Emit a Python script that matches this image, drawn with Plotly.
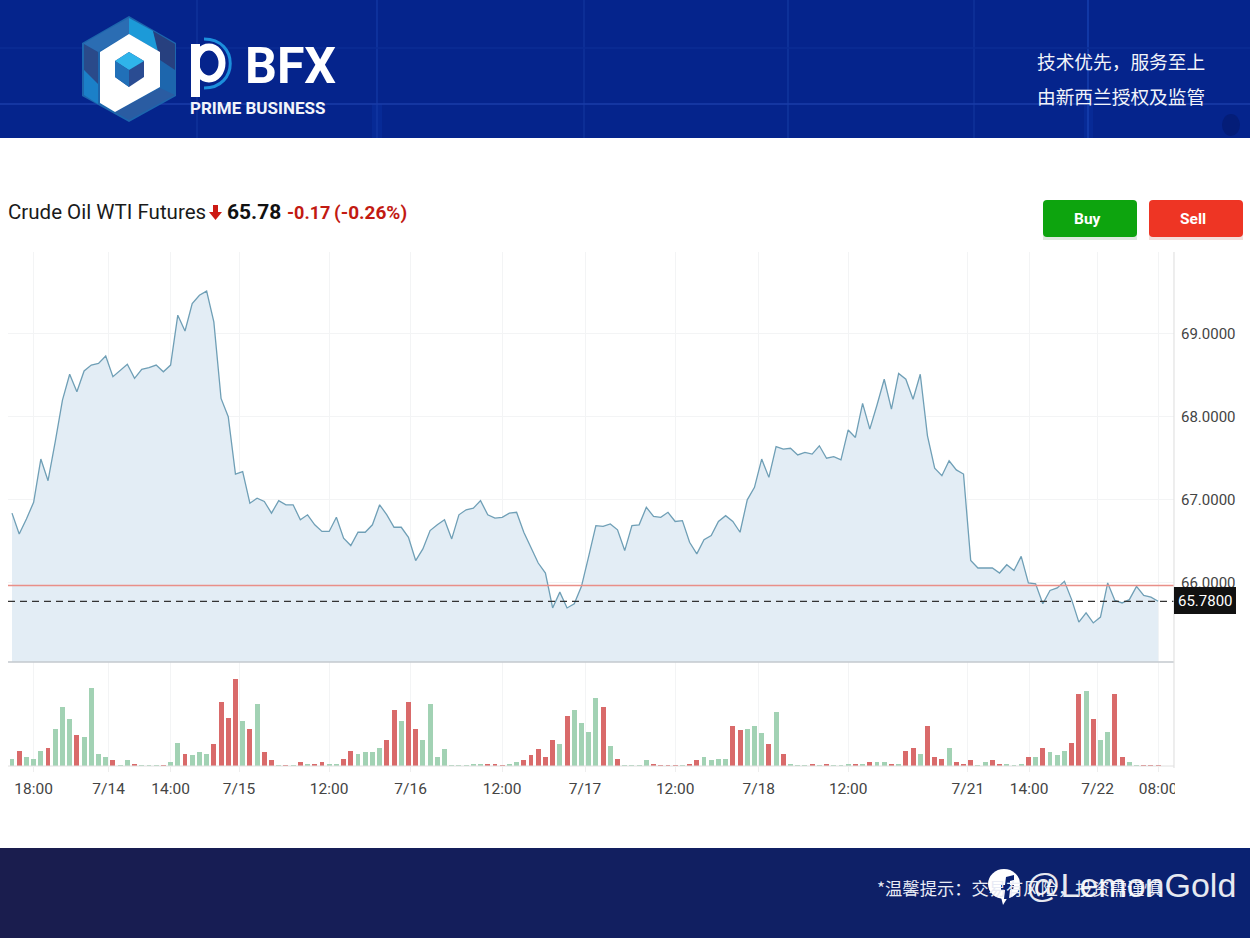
import plotly.graph_objects as go

W, H = 1250, 938
FONT = "Roboto"
CJK = "Noto Sans CJK SC"

price = [
66.84,66.59,66.77,66.97,67.49,67.23,67.70,68.20,68.51,68.30,68.55,68.62,68.64,68.73,68.48,68.56,68.63,68.46,68.57,68.59,
68.62,68.54,68.62,69.22,69.03,69.36,69.46,69.51,69.14,68.22,68.00,67.31,67.34,66.96,67.02,66.98,66.84,66.99,66.94,66.94,
66.76,66.82,66.70,66.62,66.62,66.79,66.54,66.45,66.61,66.61,66.70,66.94,66.82,66.67,66.67,66.55,66.27,
66.41,66.63,66.70,66.76,66.53,66.82,66.88,66.90,66.99,66.82,66.78,66.79,66.84,66.85,66.61,66.43,66.24,66.12,65.70,65.89,
65.70,65.75,65.96,66.32,66.69,66.68,66.71,66.64,66.39,66.69,66.70,66.91,66.80,66.79,66.85,66.74,66.75,66.49,66.35,66.52,
66.57,66.74,66.81,66.74,66.61,67.00,67.15,67.49,67.27,67.64,67.61,67.62,67.54,67.57,67.55,67.65,
67.50,67.52,67.48,67.84,67.75,68.16,67.85,68.14,68.45,68.09,68.52,68.45,68.21,68.51,67.77,67.38,67.29,67.47,67.36,67.31,
66.27,66.18,66.18,66.18,66.12,66.22,66.15,66.32,66.00,65.99,65.75,65.91,65.94,66.02,65.80,65.53,65.64,65.52,65.59,66.00,
65.79,65.76,65.80,65.96,65.85,65.83,65.78]

volume = [
22,46,26,22,46,55,112,177,140,92,88,233,36,27,18,3,18,7,2,2,2,3,12,69,36,32,41,37,65,191,144,262,135,112,186,41,18,1,3,1,
12,7,6,12,7,7,22,46,36,41,41,55,79,168,135,191,112,
79,186,27,50,1,3,3,7,7,6,4,2,6,12,18,32,50,27,79,65,149,168,130,102,205,177,60,22,1,2,2,18,7,3,3,3,2,6,18,27,18,22,22,
121,107,112,121,98,65,163,36,7,1,3,4,3,4,
1,1,7,4,7,12,12,12,7,7,46,55,36,121,27,22,55,12,7,18,2,12,18,7,7,3,7,27,27,55,41,32,46,69,215,224,140,79,102,215,27,12,1,3,3,3]

vol_side = (
"g r g g g r g g g r g g g g r g g r g g g r g g r g g g r r r r g r g r r g r g "
"r g r r g g r r g g g g r r g r r "
"g g g g g g g g g r r r g g r r r r r g r g g g g r g r g g g g r r r r g r r g g g g "
"r r g g g r g r g g g r g r "
"g g g r g r g g r g r r g r r r g r r r g g r r g g g r g r g g g r r g r g g r r g g r r r"
).split()

tick_pos = [3, 13.4, 22, 31.5, 44, 55.3, 68, 79.5, 92, 103.6, 116, 132.6, 141.1, 150.6, 159]
tick_text = ["18:00","7/14","14:00","7/15","12:00","7/16","12:00","7/17","12:00","7/18","12:00","7/21","14:00","7/22","08:00"]
price_ticks = [66, 67, 68, 69]
price_labels = ["66.0000","67.0000","68.0000","69.0000"]
CURRENT = 65.78
PREV_CLOSE = 65.97

idx = list(range(len(price)))
assert len(price) == len(volume) == len(vol_side), (len(price), len(volume), len(vol_side))

fig = go.Figure()
fig.add_trace(go.Scatter(x=idx, y=price, mode="lines", fill="tozeroy", fillcolor="#e3edf5",
                         line=dict(color="#6f9fb6", width=1.3), xaxis="x", yaxis="y", hoverinfo="skip"))
fig.add_trace(go.Bar(x=idx, y=volume, width=0.68, xaxis="x", yaxis="y2", hoverinfo="skip",
                     marker=dict(color=["#a2d2b4" if s == "g" else "#d96a6a" for s in vol_side], line=dict(width=0))))

def fx(p): return p / W
def fy(p): return 1 - p / H
def rect(x0, y0, x1, y1, color, **kw):
    return dict(type="rect", xref="paper", yref="paper", x0=fx(x0), x1=fx(x1), y0=fy(y0), y1=fy(y1),
                fillcolor=color, line=dict(width=0), layer="above", **kw)
def poly(pts, color, **kw):
    d = "M " + " L ".join(f"{fx(x):.5f} {fy(y):.5f}" for x, y in pts) + " Z"
    return dict(type="path", xref="paper", yref="paper", path=d, fillcolor=color, line=dict(width=0), layer="above", **kw)
def hline(y, color, width=1, dash="solid"):
    return dict(type="line", xref="paper", yref="y", x0=fx(8), x1=fx(1174), y0=y, y1=y,
                line=dict(color=color, width=width, dash=dash), layer="above")
def pline(x0, y0, x1, y1, color, width=1):
    return dict(type="line", xref="paper", yref="paper", x0=fx(x0), x1=fx(x1), y0=fy(y0), y1=fy(y1),
                line=dict(color=color, width=width), layer="above")

shapes = []
# top banner
shapes.append(rect(0, 0, 1250, 138, "#05248c"))
for x0, x1, c in [(372, 382, "#072a96"), (1084, 1093, "#072a96")]:
    shapes.append(rect(x0, 104, x1, 138, c))
for x, c in [(197, "#11359c"), (377, "#143aa5"), (584, "#11359c"), (788, "#143aa0"), (974, "#11359c"), (1088, "#1a44b4")]:
    shapes.append(pline(x, 0, x, 138, c, 1.3))
for y, c in [(48, "#0b2c94"), (104, "#1a3ca8")]:
    shapes.append(pline(0, y, 1250, y, c, 1.3))
shapes.append(dict(type="circle", xref="paper", yref="paper", x0=fx(1222), x1=fx(1240), y0=fy(114), y1=fy(136),
                   fillcolor="#041d78", line=dict(width=0), layer="above"))
# bottom banner, stepped left to right
steps = 25
for i in range(steps):
    t = i / (steps - 1)
    r = int(0x1a + (0x0a - 0x1a) * t)
    g = int(0x1d + (0x22 - 0x1d) * t)
    b = int(0x4e + (0x72 - 0x4e) * t)
    shapes.append(rect(i * W / steps, 848, min((i + 1) * W / steps + 1, W), 938, f"rgb({r},{g},{b})"))

# logo hexagon
shapes.append(poly([(129,16),(176,43),(176,96),(129,122),(82,96),(82,43)], "#1d66ad"))
shapes.append(poly([(129,18),(153,31),(160,52),(129,34)], "#1c9ad8"))
shapes.append(poly([(129,18),(105,31),(83,44),(98,52),(129,34)], "#2b6db3"))
shapes.append(poly([(153,31),(175,44),(175,70),(160,60)], "#27407f"))
shapes.append(poly([(84,44),(98,52),(98,90),(84,70)], "#2a4a8a"))
shapes.append(poly([(160,88),(175,95),(129,120),(115,112)], "#2a5ca2"))
shapes.append(poly([(84,70),(98,84),(98,104),(84,95)], "#1b80c8"))
shapes.append(poly([(129,34),(160,52),(160,87),(115,112),(100,103),(100,52)], "#ffffff"))
shapes.append(poly([(129,52),(144,61),(144,77),(129,87),(115,77),(115,61)], "#2a4c92"))
shapes.append(poly([(129,52),(144,61),(129,70),(115,61)], "#2fb4ea"))
shapes.append(poly([(115,61),(129,70),(129,87),(115,77)], "#2170b8"))
# logo letter p
shapes.append(rect(191, 44, 200, 97, "#ffffff"))
shapes.append(dict(type="circle", xref="paper", yref="paper", x0=fx(196), x1=fx(222), y0=fy(47), y1=fy(79),
                   line=dict(color="#ffffff", width=7), layer="above"))
def arc(x0, y0, x1, y1):
    return (f"M {fx(x0):.5f} {fy(y0):.5f} C {fx(x1):.5f} {fy(y0):.5f} {fx(x1):.5f} {fy(y1):.5f} {fx(x0):.5f} {fy(y1):.5f}")
shapes.append(dict(type="path", xref="paper", yref="paper", path=arc(204, 39, 239, 88),
                   line=dict(color="#1c8fdc", width=3), layer="above"))

# chart lines
shapes.append(hline(PREV_CLOSE, "#e98f88", 1.3))
shapes.append(hline(CURRENT, "#333333", 1.3, "7px,5px"))
shapes.append(pline(8, 662, 1174, 662, "#c3c9ce", 1.5))
shapes.append(pline(8, 766, 1174, 766, "#e0e0e0", 1))
shapes.append(pline(1174, 252, 1174, 768, "#e2e2e2", 1.2))
# clip end of last tick label as in the source
shapes.append(rect(1175, 776, 1195, 800, "#ffffff"))
# price box
shapes.append(rect(1174, 587, 1236, 614, "#111111"))
# title arrow
shapes.append(poly([(213,205),(218,205),(218,212),(222,212),(215.5,220),(209,212),(213,212)], "#cc1a14"))
# buttons
shapes.append(rect(1043, 203, 1137, 240, "#dfe9df"))
shapes.append(rect(1149, 203, 1243, 240, "#f3dedb"))
def rbtn(x0, y0, x1, y1, r, c):
    d = (f"M {fx(x0+r):.5f} {fy(y0):.5f} L {fx(x1-r):.5f} {fy(y0):.5f} Q {fx(x1):.5f} {fy(y0):.5f} {fx(x1):.5f} {fy(y0+r):.5f} "
         f"L {fx(x1):.5f} {fy(y1-r):.5f} Q {fx(x1):.5f} {fy(y1):.5f} {fx(x1-r):.5f} {fy(y1):.5f} L {fx(x0+r):.5f} {fy(y1):.5f} "
         f"Q {fx(x0):.5f} {fy(y1):.5f} {fx(x0):.5f} {fy(y1-r):.5f} L {fx(x0):.5f} {fy(y0+r):.5f} Q {fx(x0):.5f} {fy(y0):.5f} {fx(x0+r):.5f} {fy(y0):.5f} Z")
    return dict(type="path", xref="paper", yref="paper", path=d, fillcolor=c, line=dict(width=0), layer="above")
shapes.append(rbtn(1043, 200, 1137, 237, 4, "#0da40e"))
shapes.append(rbtn(1149, 200, 1243, 237, 4, "#ee3524"))
# facebook style icon of the watermark
shapes.append(dict(type="circle", xref="paper", yref="paper", x0=fx(988), x1=fx(1020), y0=fy(869), y1=fy(899),
                   fillcolor="#ffffff", line=dict(width=0), layer="above"))
shapes.append(poly([(1000,893),(1008,897),(1003,905)], "#ffffff"))
shapes.append(poly([(1006,877),(1014,875),(1014,880),(1010,881),(1010,885),(1014,885),(1013,890),(1010,890),(1009,899),(1004,899),(1005,890),(1001,890),(1001,885),(1005,885)], "#0a2272"))

def txt(x, y, s, size, color="#111111", font=FONT, anchor="left", opacity=1):
    return dict(x=fx(x), y=fy(y), xref="paper", yref="paper", text=s, showarrow=False, xanchor=anchor, yanchor="middle",
                font=dict(size=size, color=color, family=font), opacity=opacity, borderpad=0, borderwidth=0)

ann = [
    txt(8, 212, "Crude Oil WTI Futures", 20.5, "#1a1a1a"),
    txt(227, 212, "<b>65.78</b>", 21, "#111111"),
    txt(287, 212, "<b>-0.17</b>", 18, "#c21a12"),
    txt(334, 212, "<b>(-0.26%)</b>", 19, "#c21a12"),
    txt(1087, 219, "<b>Buy</b>", 15.5, "#ffffff", anchor="center"),
    txt(1193, 219, "<b>Sell</b>", 15.5, "#ffffff", anchor="center"),
    txt(1205, 600.5, "65.7800", 15, "#ffffff", anchor="center"),
    txt(1037, 60, "技术优先，服务至上", 18.7, "#f2f4fa", CJK),
    txt(1037, 95, "由新西兰授权及监管", 18.7, "#f2f4fa", CJK),
    txt(877, 887, "*温馨提示：交易有风险，投资需谨慎", 17.3, "#e8ebf5", CJK),
    txt(1026, 885, "@LemonGold", 34, "#ffffff", "Liberation Sans", opacity=0.9),
    txt(245, 66, "<b>BFX</b>", 50, "#ffffff"),
    txt(190, 108, "<b>PRIME BUSINESS</b>", 17, "#f2f4fa"),
]

fig.update_layout(
    width=W, height=H, autosize=False, margin=dict(l=0, r=0, t=0, b=0, pad=0, autoexpand=False),
    paper_bgcolor="#ffffff", plot_bgcolor="rgba(0,0,0,0)", showlegend=False, bargap=0,
    shapes=shapes, annotations=ann,
    xaxis=dict(domain=[fx(8), fx(1174)], range=[-0.555, 161.2], anchor="y2", tickmode="array",
               tickvals=tick_pos, ticktext=tick_text, showgrid=True, gridcolor="#f3f4f5", gridwidth=1,
               zeroline=False, showline=False, ticks="outside", ticklen=5, tickcolor="#eeeeee",
               ticklabelstandoff=3, tickfont=dict(family=FONT, size=15.5, color="#444444")),
    yaxis=dict(domain=[fy(662), fy(252)], range=[65.05, 69.98], side="right", anchor="x", tickmode="array",
               tickvals=price_ticks, ticktext=price_labels, showgrid=True, gridcolor="#f3f4f5", gridwidth=1,
               zeroline=False, showline=False, ticks="", ticklabelstandoff=6,
               tickfont=dict(family=FONT, size=15, color="#444444")),
    yaxis2=dict(domain=[fy(766), fy(662)], range=[0, 312], anchor="x", visible=False, showgrid=False, zeroline=False),
)
fig.write_html("out.html", config=dict(displayModeBar=False), post_script="document.body.style.margin='0';")
